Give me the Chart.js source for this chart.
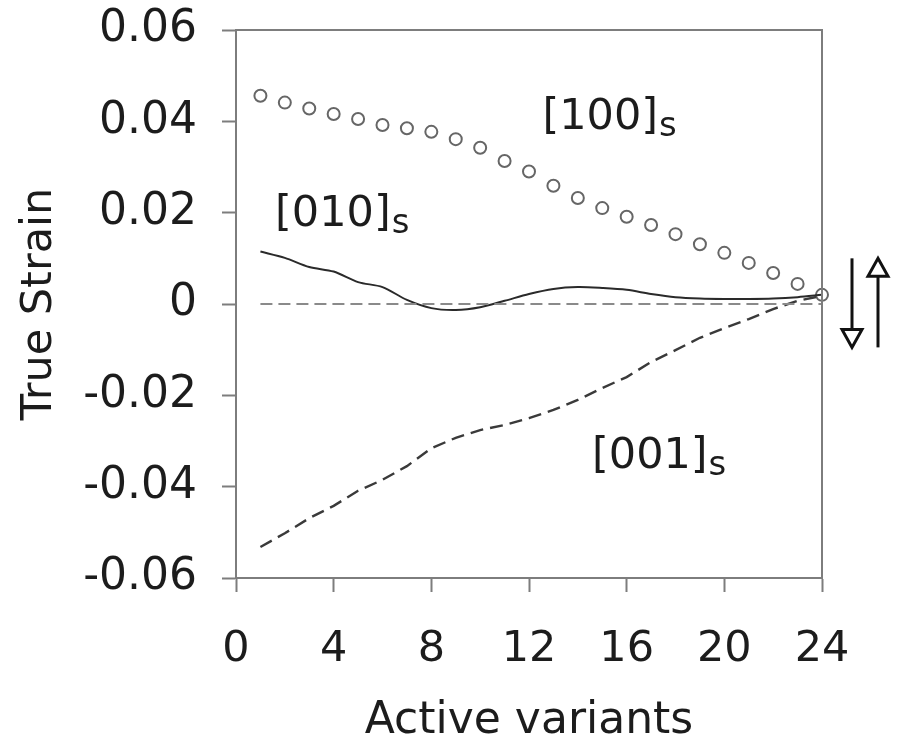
<!DOCTYPE html>
<html>
<head>
<meta charset="utf-8">
<title>True Strain vs Active variants</title>
<script src="https://cdn.jsdelivr.net/npm/chart.js@4/dist/chart.umd.min.js"></script>
<style>
  html, body { margin: 0; padding: 0; background: #fff; }
  #wrap { width: 900px; height: 744px; }
</style>
</head>
<body>
<div id="wrap"><canvas id="chart" width="900" height="744"></canvas></div>
<script>
"use strict";

// Data ----------------------------------------------------------------------
const variants = [1, 2, 3, 4, 5, 6, 7, 8, 9, 10, 11, 12,
  13, 14, 15, 16, 17, 18, 19, 20, 21, 22, 23, 24];

const strain100 = [0.0456, 0.0441, 0.0428, 0.0416, 0.0405, 0.0392, 0.0385, 0.0377,
  0.0361, 0.0342, 0.0313, 0.0290, 0.0259, 0.0232, 0.0210, 0.0191,
  0.0173, 0.0153, 0.0131, 0.0112, 0.0090, 0.0068, 0.0044, 0.0020];

const strain010 = [0.0115, 0.0101, 0.0081, 0.0071, 0.0048, 0.0037, 0.0009, -0.0009,
  -0.0013, -0.0007, 0.0007, 0.0022, 0.0033, 0.0037, 0.0035, 0.0031,
  0.0022, 0.0015, 0.0012, 0.0011, 0.0011, 0.0012, 0.0015, 0.0020];

const strain001 = [-0.0532, -0.0502, -0.0469, -0.0442, -0.0409, -0.0385, -0.0355, -0.0316,
  -0.0293, -0.0276, -0.0265, -0.0250, -0.0232, -0.0210, -0.0184, -0.0160,
  -0.0127, -0.0101, -0.0074, -0.0053, -0.0033, -0.0011, 0.0007, 0.0018];

const zeroX = [1, 24];
const zeroY = [0, 0];

const xTicks = [0, 4, 8, 12, 16, 20, 24];
const yTicks = [-0.06, -0.04, -0.02, 0, 0.02, 0.04, 0.06];

// label text, anchor in data units (left edge, baseline)
const seriesLabels = [
  { main: "[100]", sub: "s", x: 12.55, y: 0.0383 },
  { main: "[010]", sub: "s", x: 1.6, y: 0.0171 },
  { main: "[001]", sub: "s", x: 14.58, y: -0.0360 },
];

const FONT = "'DejaVu Sans', Verdana, sans-serif";
const AXIS_GREY = "#7d7d7d";
const INK = "#1c1c1c";

function pairs(xs, ys) {
  return xs.map((x, i) => ({ x, y: ys[i] }));
}

// Plugins -------------------------------------------------------------------
const framePlugin = {
  id: "frame",
  afterDatasetsDraw(chart) {
    const { ctx, chartArea: a } = chart;
    ctx.save();
    ctx.strokeStyle = AXIS_GREY;
    ctx.lineWidth = 2;
    ctx.beginPath();
    ctx.moveTo(a.left, a.top);
    ctx.lineTo(a.right, a.top);
    ctx.lineTo(a.right, a.bottom);
    ctx.stroke();
    ctx.restore();
  },
};

const labelPlugin = {
  id: "seriesLabels",
  afterDatasetsDraw(chart) {
    const { ctx, scales } = chart;
    ctx.save();
    ctx.fillStyle = INK;
    ctx.textBaseline = "alphabetic";
    ctx.textAlign = "left";
    for (const l of seriesLabels) {
      const px = scales.x.getPixelForValue(l.x);
      const py = scales.y.getPixelForValue(l.y);
      ctx.font = "43px " + FONT;
      ctx.fillText(l.main, px, py);
      const w = ctx.measureText(l.main).width;
      ctx.font = "34px " + FONT;
      ctx.fillText(l.sub, px + w + 1, py + 7);
    }
    ctx.restore();
  },
};

function arrow(ctx, x, yFrom, yTo) {
  const dir = yTo > yFrom ? 1 : -1;
  const headLen = 18;
  const headHalf = 10;
  const base = yTo - dir * headLen;
  ctx.beginPath();
  ctx.moveTo(x, yFrom);
  ctx.lineTo(x, base);
  ctx.stroke();
  ctx.beginPath();
  ctx.moveTo(x - headHalf, base);
  ctx.lineTo(x + headHalf, base);
  ctx.lineTo(x, yTo);
  ctx.closePath();
  ctx.fillStyle = "#fff";
  ctx.fill();
  ctx.stroke();
}

const arrowPlugin = {
  id: "arrows",
  afterDraw(chart) {
    const { ctx, chartArea: a, scales } = chart;
    const top = scales.y.getPixelForValue(0.0100);
    const bottom = scales.y.getPixelForValue(-0.0095);
    ctx.save();
    ctx.strokeStyle = "#111";
    ctx.lineWidth = 3;
    ctx.lineJoin = "miter";
    arrow(ctx, a.right + 30, top, bottom);
    arrow(ctx, a.right + 56, bottom, top);
    ctx.restore();
  },
};

// Chart ---------------------------------------------------------------------
new Chart(document.getElementById("chart"), {
  type: "scatter",
  data: {
    datasets: [
      {
        label: "zero",
        data: pairs(zeroX, zeroY),
        showLine: true,
        borderColor: "#8a8a8a",
        borderWidth: 2.2,
        borderDash: [12, 6],
        pointRadius: 0,
      },
      {
        label: "[001]s",
        data: pairs(variants, strain001),
        showLine: true,
        borderColor: "#3a3a3a",
        borderWidth: 2.4,
        borderDash: [13, 7],
        pointRadius: 0,
        clip: false,
      },
      {
        label: "[010]s",
        data: pairs(variants, strain010),
        showLine: true,
        borderColor: "#2a2a2a",
        borderWidth: 2,
        tension: 0.3,
        pointRadius: 0,
        clip: false,
      },
      {
        label: "[100]s",
        data: pairs(variants, strain100),
        showLine: false,
        pointStyle: "circle",
        pointRadius: 6,
        pointBorderWidth: 2,
        pointBorderColor: "#666",
        pointBackgroundColor: "rgba(255,255,255,0)",
        clip: false,
      },
    ],
  },
  options: {
    responsive: false,
    animation: false,
    layout: { padding: { left: 10, top: 30, right: 78, bottom: 0 } },
    plugins: {
      legend: { display: false },
      tooltip: { enabled: false },
    },
    scales: {
      x: {
        type: "linear",
        min: 0,
        max: 24,
        afterBuildTicks: (s) => { s.ticks = xTicks.map((v) => ({ value: v })); },
        afterFit: (s) => { s.height = 166; s.paddingLeft = 0; s.paddingRight = 0; },
        grid: { drawOnChartArea: false, drawTicks: true, tickLength: 14, tickWidth: 2, tickColor: AXIS_GREY },
        border: { color: AXIS_GREY, width: 2 },
        ticks: { color: INK, font: { family: FONT, size: 43 }, padding: 32, maxRotation: 0 },
        title: {
          display: true, text: "Active variants", color: INK,
          font: { family: FONT, size: 44, lineHeight: 0.95 }, padding: { bottom: 2 },
        },
      },
      y: {
        type: "linear",
        min: -0.06,
        max: 0.06,
        afterBuildTicks: (s) => {
          const t = [];
          for (let i = 0; i <= 12; i++) t.push({ value: -0.06 + i * 0.01 });
          s.ticks = t;
        },
        afterFit: (s) => { s.width = 226; s.paddingTop = 0; s.paddingBottom = 0; },
        grid: { drawOnChartArea: false, drawTicks: true, tickLength: 14, tickWidth: 2, tickColor: AXIS_GREY },
        border: { color: AXIS_GREY, width: 2 },
        ticks: {
          color: INK,
          font: { family: FONT, size: 44 },
          padding: 25,
          callback: (v) => {
            const hit = yTicks.find((t) => Math.abs(t - v) < 1e-9);
            if (hit === undefined) return "";
            return hit === 0 ? "0" : hit.toFixed(2);
          },
        },
        title: { display: true, text: "True Strain", color: INK, font: { family: FONT, size: 43 }, padding: { top: 4 } },
      },
    },
  },
  plugins: [framePlugin, labelPlugin, arrowPlugin],
});
</script>
</body>
</html>
